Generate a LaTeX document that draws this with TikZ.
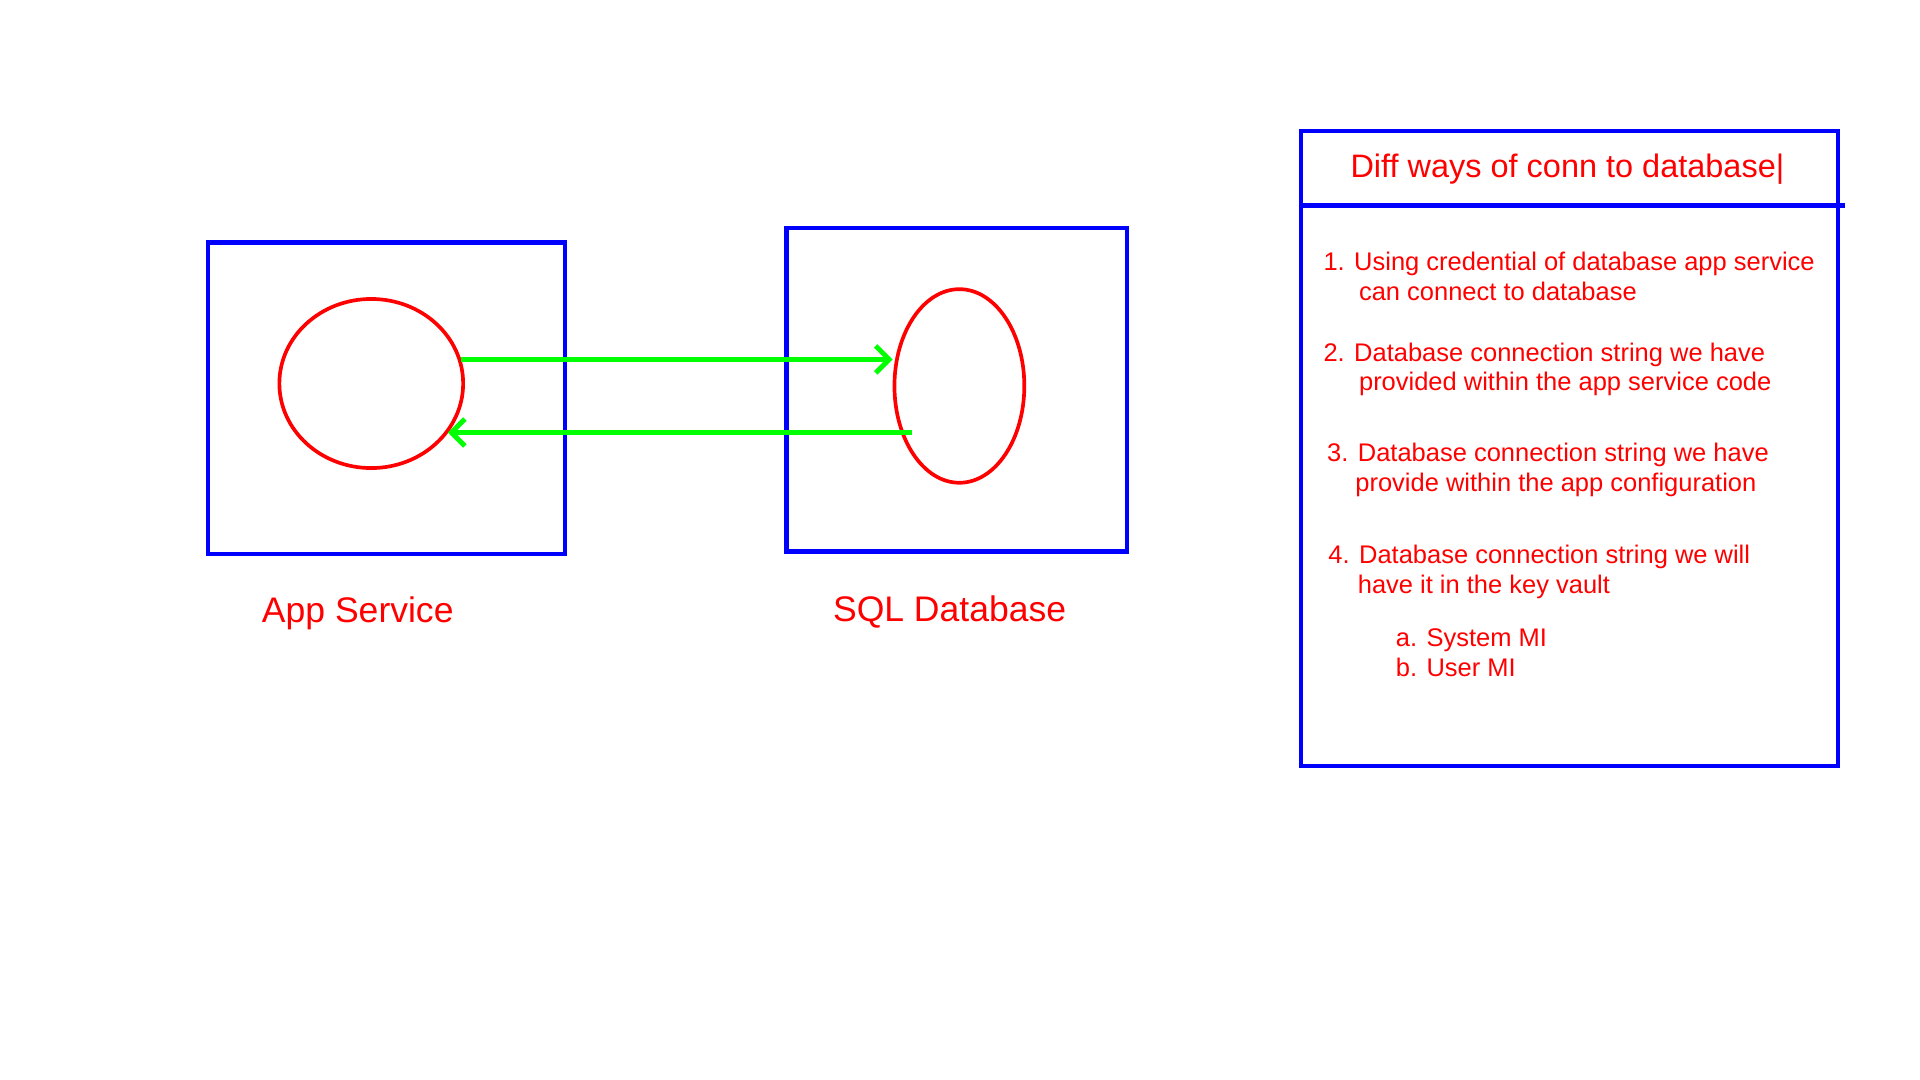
\documentclass[tikz,border=0pt]{standalone}
\usepackage{fontspec}
\setmainfont{Liberation Sans}
\usetikzlibrary{shapes.geometric, arrows.meta, positioning}

\definecolor{paintblue}{RGB}{0,0,255}
\definecolor{paintred}{RGB}{255,0,0}
\definecolor{paintgreen}{RGB}{0,255,0}

\tikzset{
  frame/.style={draw=paintblue, line width=3.5pt, inner sep=0pt},
  blob/.style={ellipse, draw=paintred, line width=3pt, inner sep=0pt},
  link/.style={draw=paintgreen, line width=4pt, -{Straight Barb[length=11pt,width=22pt]}},
  caption/.style={text=paintred, font=\fontsize{29}{32}\selectfont, anchor=base, inner sep=0pt},
  note/.style={text=paintred, font=\fontsize{20.8}{24}\selectfont, anchor=base west, align=left, inner sep=0pt},
}

\begin{document}
\begin{tikzpicture}[x=1pt, y=-1pt]
  \useasboundingbox (0,0) rectangle (1567,881);

  % the two services
  \node[frame, minimum width=291pt, minimum height=254pt] (appBox) at (315.5,325) {};
  \node[frame, minimum width=278pt, minimum height=264pt] (dbBox)  at (781,318)   {};
  \node[blob, minimum width=150pt, minimum height=138pt]  (appBlob) at (303,313) {};
  \node[blob, minimum width=106pt, minimum height=158pt]  (dbBlob)  at (783,315) {};
  \node[caption] (appName) at (292,508) {App Service};
  \node[caption] (dbName)  at (775,507) {SQL Database};

  % connections
  \coordinate (dbOut) at (744,353);
  \draw[link] (appBlob.15) -- (appBlob.15 -| dbBlob.west);
  \draw[link] (dbOut) -- (dbOut -| appBlob.-33);

  % list of ways (base = last line)
  \node[frame, minimum width=438pt, minimum height=518pt] (ways) at (1281,366) {};
  \draw[draw=paintblue, line width=3.5pt]
    ([yshift=-62.5pt]ways.north west) -- ([yshift=-62.5pt, xshift=4pt]ways.north east);
  \node[note, font=\fontsize{26.5}{30}\selectfont] (waysTitle) at (1102,145) {Diff ways of conn to database|};
  \node[note] (way1) at (1080,245) {1. Using credential of database app service\\\hspace*{29pt}can connect to database};
  \node[note] (way2) at (1080,319) {2. Database connection string we have\\\hspace*{29pt}provided within the app service code};
  \node[note] (way3) at (1083,401) {3. Database connection string we have\\\hspace*{23pt}provide within the app configuration};
  \node[note] (way4) at (1084,484) {4. Database connection string we will\\\hspace*{24pt}have it in the key vault};
  \node[note] (way4ab) at (1139,552) {a. System MI\\b. User MI};
\end{tikzpicture}
\end{document}
